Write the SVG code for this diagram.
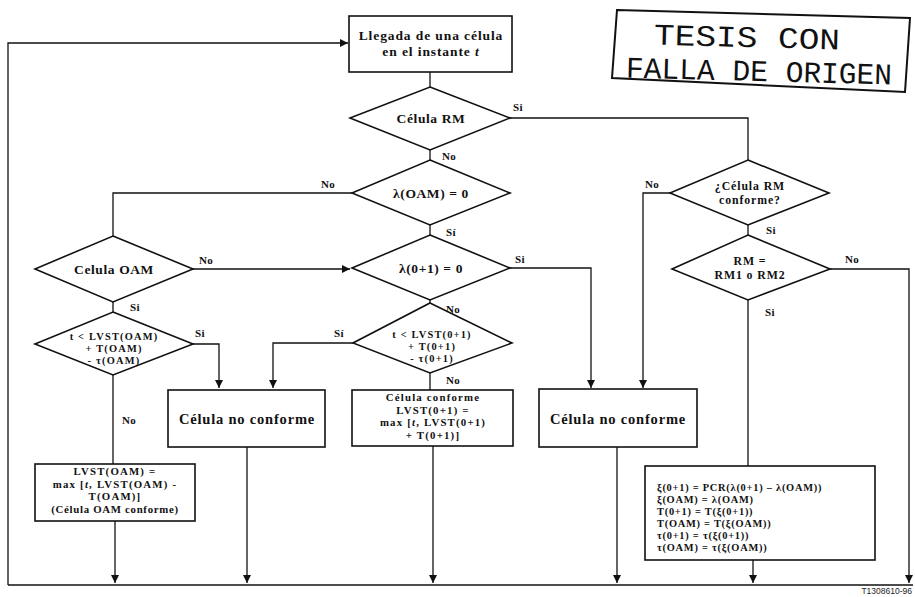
<svg xmlns="http://www.w3.org/2000/svg" width="915" height="597" viewBox="0 0 915 597">
<defs>
<marker id="ah" markerUnits="userSpaceOnUse" markerWidth="9" markerHeight="9" refX="8" refY="4" orient="auto">
<path d="M0,0 L8,4 L0,8 z" fill="#111"/>
</marker>
<style>
.sh{fill:#fff;stroke:#111;stroke-width:1.6}
.t{font-family:"Liberation Serif",serif;font-weight:bold;font-size:13.5px;fill:#111;text-anchor:middle;letter-spacing:0.6px}
.m{font-size:10.4px;letter-spacing:1.2px}
.b{font-size:11.8px;letter-spacing:0.9px}
.q{font-size:10.8px;letter-spacing:1.2px}
.s{font-family:"Liberation Serif",serif;font-weight:bold;font-size:11px;fill:#111;letter-spacing:0.3px}
.bl{font-family:"Liberation Serif",serif;font-weight:bold;font-size:10.4px;fill:#111;letter-spacing:0.75px}
.c{fill:none;stroke:#111;stroke-width:1.3}
.st{font-family:"Liberation Mono",monospace;font-size:30px;fill:#111}
</style>
</defs>
<rect width="915" height="597" fill="#fff"/>

<g id="connectors">
<path class="c" d="M8,585 H913"/>
<path class="c" d="M8,585 V43 H348" marker-end="url(#ah)"/>
<path class="c" d="M430,72 V87"/>
<path class="c" d="M430,150 V160"/>
<path class="c" d="M510,118 H748 V160"/>
<path class="c" d="M352,193 H113 V236"/>
<path class="c" d="M430,225 V235"/>
<path class="c" d="M193,269 H350" marker-end="url(#ah)"/>
<path class="c" d="M113,302 V312"/>
<path class="c" d="M510,268 H591 V388" marker-end="url(#ah)"/>
<path class="c" d="M430,300 V303"/>
<path class="c" d="M353,343 H273 V388" marker-end="url(#ah)"/>
<path class="c" d="M193,344 H219 V388" marker-end="url(#ah)"/>
<path class="c" d="M430,373 V390"/>
<path class="c" d="M113,375 V464"/>
<path class="c" d="M670,193 H643 V388" marker-end="url(#ah)"/>
<path class="c" d="M748,225 V235"/>
<path class="c" d="M830,269 H909 V583" marker-end="url(#ah)"/>
<path class="c" d="M748,300 V466"/>
<path class="c" d="M115,521 V583" marker-end="url(#ah)"/>
<path class="c" d="M247,447 V583" marker-end="url(#ah)"/>
<path class="c" d="M433,446 V583" marker-end="url(#ah)"/>
<path class="c" d="M617,447 V583" marker-end="url(#ah)"/>
<path class="c" d="M753,560 V583" marker-end="url(#ah)"/>
<text class="s" x="513" y="111">Si</text>
<text class="s" x="442" y="160">No</text>
<text class="s" x="321" y="188">No</text>
<text class="s" x="446" y="236">Sí</text>
<text class="s" x="199" y="264">No</text>
<text class="s" x="515" y="263">Si</text>
<text class="s" x="130" y="311">Si</text>
<text class="s" x="446" y="313">No</text>
<text class="s" x="195" y="337">Si</text>
<text class="s" x="334" y="337">Sí</text>
<text class="s" x="446" y="384">No</text>
<text class="s" x="122" y="424">No</text>
<text class="s" x="645" y="188">No</text>
<text class="s" x="766" y="234">Si</text>
<text class="s" x="845" y="263">No</text>
<text class="s" x="765" y="316">Si</text>
</g>

<g id="n_llegada">
<rect class="sh" x="349" y="16" width="163" height="56"/>
<text class="t" x="431" y="40" style="font-size:13.5px;letter-spacing:0.9px">Llegada de una célula</text>
<text class="t" x="431" y="56" style="font-size:13.5px;letter-spacing:0.9px">en el instante <tspan font-style="italic">t</tspan></text>
</g>

<g id="d_celula_rm">
<polygon class="sh" points="430,87 510,118 430,150 350,118"/>
<text class="t" x="431" y="123">Célula RM</text>
</g>

<g id="d_lambda_oam">
<polygon class="sh" points="430,160 510,193 430,225 352,193"/>
<text class="t" x="431" y="198">λ(OAM) = 0</text>
</g>

<g id="d_lambda_01">
<polygon class="sh" points="430,235 510,268 430,300 352,268"/>
<text class="t" x="431" y="273">λ(0+1) = 0</text>
</g>

<g id="d_celula_oam">
<polygon class="sh" points="113,236 193,269 113,302 35,269"/>
<text class="t" x="114" y="274">Celula OAM</text>
</g>

<g id="d_t_oam">
<polygon class="sh" points="113,312 193,344 113,375 35,344"/>
<text class="t m" x="114" y="340">t &lt; LVST(OAM)</text>
<text class="t m" x="114" y="352">+ T(OAM)</text>
<text class="t m" x="114" y="364">- τ(OAM)</text>
</g>

<g id="d_t_01">
<polygon class="sh" points="430,303 512,343 430,373 353,343"/>
<text class="t m" x="432" y="338">t &lt; LVST(0+1)</text>
<text class="t m" x="432" y="350">+ T(0+1)</text>
<text class="t m" x="432" y="362">- τ(0+1)</text>
</g>

<g id="d_rm_conforme">
<polygon class="sh" points="748,160 829,193 748,225 670,193"/>
<text class="t b" x="750" y="190">¿Célula RM</text>
<text class="t b" x="750" y="204">conforme?</text>
</g>

<g id="d_rm_rm1">
<polygon class="sh" points="748,235 830,269 748,300 672,269"/>
<text class="t b" x="750" y="265">RM =</text>
<text class="t b" x="750" y="279">RM1 o RM2</text>
</g>

<g id="n_no_conforme_1">
<rect class="sh" x="168" y="390" width="157" height="57"/>
<text class="t" x="247" y="424" style="font-size:14.5px;letter-spacing:0.8px">Célula no conforme</text>
</g>

<g id="n_conforme">
<rect class="sh" x="352" y="390" width="161" height="56"/>
<text class="t q" x="433" y="401">Célula conforme</text>
<text class="t q" x="433" y="413.5">LVST(0+1) =</text>
<text class="t q" x="433" y="426">max [<tspan font-style="italic">t</tspan>, LVST(0+1)</text>
<text class="t q" x="433" y="438.5">+ T(0+1)]</text>
</g>

<g id="n_no_conforme_2">
<rect class="sh" x="539" y="389" width="158" height="58"/>
<text class="t" x="618" y="424" style="font-size:14.5px;letter-spacing:0.8px">Célula no conforme</text>
</g>

<g id="n_lvst_oam">
<rect class="sh" x="35" y="464" width="160" height="57"/>
<text class="t q" x="115" y="475">LVST(OAM) =</text>
<text class="t q" x="115" y="487.5">max  [<tspan font-style="italic">t</tspan>, LVST(OAM) -</text>
<text class="t q" x="115" y="500">T(OAM)]</text>
<text class="t q" x="115" y="512.5" style="letter-spacing:0.7px">(Célula OAM conforme)</text>
</g>

<g id="n_asignacion">
<rect class="sh" x="645" y="466" width="230" height="94"/>
<text class="bl" x="657" y="491">ξ(0+1) = PCR(λ(0+1) – λ(OAM))</text>
<text class="bl" x="657" y="503">ξ(OAM) = λ(OAM)</text>
<text class="bl" x="657" y="515">T(0+1) = T(ξ(0+1))</text>
<text class="bl" x="657" y="527">T(OAM) = T(ξ(OAM))</text>
<text class="bl" x="657" y="539">τ(0+1) = τ(ξ(0+1))</text>
<text class="bl" x="657" y="551">τ(OAM) = τ(ξ(OAM))</text>
</g>

<g id="stamp">
<polygon points="617,10 910,18 905,92 612,78" fill="none" stroke="#111" stroke-width="2"/>
<text class="st" x="654" y="47" textLength="186" lengthAdjust="spacingAndGlyphs" transform="rotate(1.5 745 40)">TESIS CON</text>
<text class="st" x="626" y="81" textLength="266" lengthAdjust="spacingAndGlyphs" transform="rotate(1.5 758 74)">FALLA DE ORIGEN</text>
</g>

<text x="912" y="594" font-family="Liberation Sans, sans-serif" font-size="8.5" fill="#222" text-anchor="end">T1308610-96</text>
</svg>
